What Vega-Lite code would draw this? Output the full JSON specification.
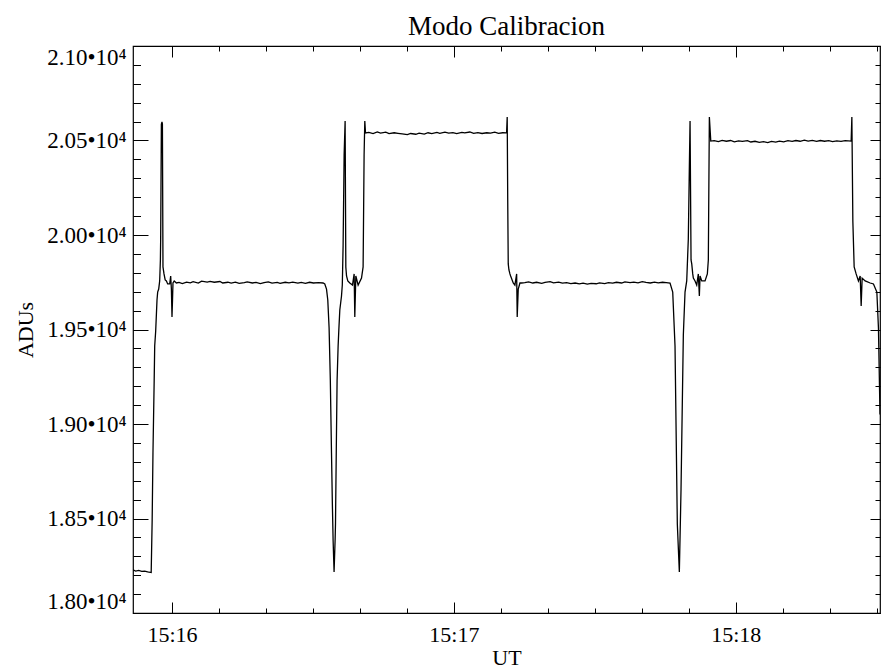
{
  "$schema": "https://vega.github.io/schema/vega-lite/v6.json",
  "width": 747,
  "height": 567,
  "autosize": {"type": "none"},
  "padding": {"left": 133, "top": 46, "right": 1, "bottom": 55},
  "background": "white",
  "config": {
    "view": {"stroke": "black", "strokeWidth": 1.2},
    "font": "Liberation Serif",
    "axis": {
      "domain": false,
      "grid": false,
      "tickColor": "black",
      "tickWidth": 1,
      "labelColor": "black",
      "titleColor": "black",
      "labelFont": "Liberation Serif",
      "titleFont": "Liberation Serif",
      "labelFontSize": 22,
      "titleFontSize": 22,
      "titleFontWeight": "normal",
      "labelOverlap": false
    }
  },
  "title": {
    "text": "Modo Calibracion",
    "font": "Liberation Serif",
    "fontSize": 27,
    "fontWeight": "normal",
    "color": "black",
    "baseline": "alphabetic",
    "offset": -16
  },
  "data": {
    "values": [
      {"t": 951.7, "adu": 18228}, {"t": 952.27, "adu": 18222}, {"t": 952.91, "adu": 18225},
      {"t": 953.55, "adu": 18220}, {"t": 954.19, "adu": 18222}, {"t": 954.82, "adu": 18217},
      {"t": 955.57, "adu": 18214}, {"t": 955.78, "adu": 18492}, {"t": 955.95, "adu": 18847},
      {"t": 956.21, "adu": 19233}, {"t": 956.32, "adu": 19413}, {"t": 956.53, "adu": 19492},
      {"t": 956.81, "adu": 19656}, {"t": 956.95, "adu": 19698}, {"t": 957.17, "adu": 19714},
      {"t": 957.38, "adu": 19757}, {"t": 957.53, "adu": 19868}, {"t": 957.59, "adu": 19979},
      {"t": 957.74, "adu": 20587}, {"t": 957.87, "adu": 20598}, {"t": 957.96, "adu": 20587},
      {"t": 958.08, "adu": 19831}, {"t": 958.3, "adu": 19794}, {"t": 958.55, "adu": 19762},
      {"t": 958.81, "adu": 19757}, {"t": 959.08, "adu": 19741}, {"t": 959.51, "adu": 19741},
      {"t": 959.72, "adu": 19783}, {"t": 959.87, "adu": 19714}, {"t": 960.0, "adu": 19566},
      {"t": 960.11, "adu": 19656}, {"t": 960.21, "adu": 19746}, {"t": 960.47, "adu": 19757},
      {"t": 960.94, "adu": 19746},
      {"t": 961.5, "adu": 19749}, {"t": 962.2, "adu": 19743}, {"t": 963.1, "adu": 19751},
      {"t": 963.9, "adu": 19747}, {"t": 964.5, "adu": 19753}, {"t": 965.6, "adu": 19746},
      {"t": 966.3, "adu": 19756}, {"t": 967.5, "adu": 19751}, {"t": 968.1, "adu": 19755},
      {"t": 969.0, "adu": 19750}, {"t": 970.2, "adu": 19754}, {"t": 970.8, "adu": 19746},
      {"t": 971.9, "adu": 19750}, {"t": 972.6, "adu": 19745}, {"t": 973.5, "adu": 19751},
      {"t": 974.3, "adu": 19744}, {"t": 975.4, "adu": 19748}, {"t": 976.0, "adu": 19752},
      {"t": 977.1, "adu": 19746}, {"t": 977.9, "adu": 19749}, {"t": 978.8, "adu": 19743},
      {"t": 979.6, "adu": 19748}, {"t": 980.5, "adu": 19752}, {"t": 981.3, "adu": 19745},
      {"t": 982.4, "adu": 19749}, {"t": 983.0, "adu": 19744}, {"t": 984.1, "adu": 19750},
      {"t": 984.9, "adu": 19747}, {"t": 985.7, "adu": 19751}, {"t": 986.8, "adu": 19745},
      {"t": 987.5, "adu": 19749}, {"t": 988.4, "adu": 19744}, {"t": 989.3, "adu": 19750},
      {"t": 990.1, "adu": 19746}, {"t": 991.2, "adu": 19748},
      {"t": 992.16, "adu": 19746}, {"t": 992.52, "adu": 19741}, {"t": 992.89, "adu": 19714},
      {"t": 993.16, "adu": 19656}, {"t": 993.44, "adu": 19508}, {"t": 993.7, "adu": 19233},
      {"t": 993.95, "adu": 18847}, {"t": 994.12, "adu": 18598}, {"t": 994.29, "adu": 18386},
      {"t": 994.5, "adu": 18217}, {"t": 994.72, "adu": 18386}, {"t": 994.8, "adu": 18471},
      {"t": 994.97, "adu": 18862}, {"t": 995.14, "adu": 19228}, {"t": 995.36, "adu": 19413},
      {"t": 995.51, "adu": 19497}, {"t": 995.72, "adu": 19603}, {"t": 996.08, "adu": 19677},
      {"t": 996.25, "adu": 19735}, {"t": 996.42, "adu": 19942}, {"t": 996.64, "adu": 20423},
      {"t": 996.85, "adu": 20603}, {"t": 997.0, "adu": 19831}, {"t": 997.15, "adu": 19783},
      {"t": 997.42, "adu": 19757}, {"t": 997.85, "adu": 19746}, {"t": 998.42, "adu": 19735},
      {"t": 998.77, "adu": 19794}, {"t": 998.91, "adu": 19566}, {"t": 999.13, "adu": 19783},
      {"t": 999.62, "adu": 19735}, {"t": 1000.34, "adu": 19772}, {"t": 1000.68, "adu": 19831},
      {"t": 1000.89, "adu": 20423}, {"t": 1001.04, "adu": 20603}, {"t": 1001.19, "adu": 20540},
      {"t": 1001.9, "adu": 20543}, {"t": 1002.8, "adu": 20537}, {"t": 1003.7, "adu": 20545},
      {"t": 1004.4, "adu": 20539}, {"t": 1005.5, "adu": 20544}, {"t": 1006.2, "adu": 20536},
      {"t": 1007.3, "adu": 20541}, {"t": 1008.1, "adu": 20538}, {"t": 1009.0, "adu": 20535},
      {"t": 1010.1, "adu": 20531}, {"t": 1010.8, "adu": 20537}, {"t": 1011.9, "adu": 20533},
      {"t": 1012.6, "adu": 20539}, {"t": 1013.7, "adu": 20534}, {"t": 1014.5, "adu": 20541},
      {"t": 1015.3, "adu": 20536}, {"t": 1016.4, "adu": 20543}, {"t": 1017.0, "adu": 20538},
      {"t": 1018.1, "adu": 20544}, {"t": 1018.9, "adu": 20539}, {"t": 1019.8, "adu": 20542},
      {"t": 1020.6, "adu": 20536}, {"t": 1021.7, "adu": 20543}, {"t": 1022.3, "adu": 20540},
      {"t": 1023.4, "adu": 20545}, {"t": 1024.2, "adu": 20538}, {"t": 1025.1, "adu": 20542},
      {"t": 1026.0, "adu": 20537}, {"t": 1027.0, "adu": 20541}, {"t": 1027.8, "adu": 20539},
      {"t": 1028.7, "adu": 20544}, {"t": 1029.5, "adu": 20538}, {"t": 1030.4, "adu": 20541},
      {"t": 1031.22, "adu": 20540}, {"t": 1031.35, "adu": 20624}, {"t": 1031.46, "adu": 20185},
      {"t": 1031.57, "adu": 19847}, {"t": 1031.72, "adu": 19815}, {"t": 1031.93, "adu": 19794},
      {"t": 1032.08, "adu": 19783}, {"t": 1032.63, "adu": 19746}, {"t": 1032.99, "adu": 19735},
      {"t": 1033.36, "adu": 19794}, {"t": 1033.48, "adu": 19566}, {"t": 1033.7, "adu": 19714},
      {"t": 1034.06, "adu": 19746}, {"t": 1034.42, "adu": 19746},
      {"t": 1035.1, "adu": 19748}, {"t": 1035.9, "adu": 19752}, {"t": 1036.8, "adu": 19746},
      {"t": 1037.6, "adu": 19750}, {"t": 1038.7, "adu": 19744}, {"t": 1039.4, "adu": 19749},
      {"t": 1040.5, "adu": 19753}, {"t": 1041.2, "adu": 19747}, {"t": 1042.3, "adu": 19751},
      {"t": 1043.1, "adu": 19745}, {"t": 1044.0, "adu": 19748}, {"t": 1044.9, "adu": 19743},
      {"t": 1045.8, "adu": 19746}, {"t": 1046.7, "adu": 19741}, {"t": 1047.5, "adu": 19745},
      {"t": 1048.4, "adu": 19740}, {"t": 1049.2, "adu": 19744}, {"t": 1050.3, "adu": 19742},
      {"t": 1051.0, "adu": 19747}, {"t": 1052.1, "adu": 19743}, {"t": 1052.9, "adu": 19748},
      {"t": 1053.8, "adu": 19745}, {"t": 1054.6, "adu": 19750}, {"t": 1055.7, "adu": 19746},
      {"t": 1056.4, "adu": 19752}, {"t": 1057.5, "adu": 19748}, {"t": 1058.3, "adu": 19751},
      {"t": 1059.2, "adu": 19747}, {"t": 1060.1, "adu": 19753}, {"t": 1060.9, "adu": 19749},
      {"t": 1061.8, "adu": 19746}, {"t": 1062.7, "adu": 19751}, {"t": 1063.5, "adu": 19747},
      {"t": 1064.4, "adu": 19750}, {"t": 1065.2, "adu": 19748},
      {"t": 1066.01, "adu": 19746}, {"t": 1066.58, "adu": 19698}, {"t": 1067.07, "adu": 19413},
      {"t": 1067.56, "adu": 18471}, {"t": 1067.99, "adu": 18217}, {"t": 1068.35, "adu": 18656},
      {"t": 1068.84, "adu": 19471}, {"t": 1069.2, "adu": 19698}, {"t": 1069.56, "adu": 19757},
      {"t": 1069.9, "adu": 19979}, {"t": 1070.12, "adu": 20360}, {"t": 1070.27, "adu": 20603},
      {"t": 1070.48, "adu": 19868}, {"t": 1070.63, "adu": 19847}, {"t": 1070.84, "adu": 19794},
      {"t": 1070.97, "adu": 19772}, {"t": 1071.33, "adu": 19757}, {"t": 1071.69, "adu": 19735},
      {"t": 1072.03, "adu": 19794}, {"t": 1072.25, "adu": 19677}, {"t": 1072.4, "adu": 19783},
      {"t": 1072.76, "adu": 19757}, {"t": 1073.46, "adu": 19757}, {"t": 1073.95, "adu": 19794},
      {"t": 1074.16, "adu": 19868}, {"t": 1074.38, "adu": 20624}, {"t": 1074.68, "adu": 20497},
      {"t": 1075.4, "adu": 20499}, {"t": 1076.3, "adu": 20494}, {"t": 1077.1, "adu": 20501},
      {"t": 1078.0, "adu": 20496}, {"t": 1078.9, "adu": 20500}, {"t": 1079.7, "adu": 20493},
      {"t": 1080.6, "adu": 20498}, {"t": 1081.4, "adu": 20495}, {"t": 1082.5, "adu": 20499},
      {"t": 1083.2, "adu": 20492}, {"t": 1084.1, "adu": 20496}, {"t": 1085.0, "adu": 20490},
      {"t": 1085.9, "adu": 20494}, {"t": 1086.8, "adu": 20489}, {"t": 1087.6, "adu": 20495},
      {"t": 1088.5, "adu": 20491}, {"t": 1089.3, "adu": 20497}, {"t": 1090.2, "adu": 20493},
      {"t": 1091.1, "adu": 20499}, {"t": 1092.0, "adu": 20495}, {"t": 1092.8, "adu": 20500},
      {"t": 1093.7, "adu": 20496}, {"t": 1094.6, "adu": 20502}, {"t": 1095.4, "adu": 20497},
      {"t": 1096.3, "adu": 20501}, {"t": 1097.2, "adu": 20495}, {"t": 1098.0, "adu": 20500},
      {"t": 1098.9, "adu": 20496}, {"t": 1099.8, "adu": 20499}, {"t": 1100.6, "adu": 20494},
      {"t": 1101.5, "adu": 20498}, {"t": 1102.4, "adu": 20495}, {"t": 1103.3, "adu": 20499},
      {"t": 1104.56, "adu": 20497}, {"t": 1104.71, "adu": 20624}, {"t": 1104.92, "adu": 20074},
      {"t": 1105.2, "adu": 19831}, {"t": 1105.62, "adu": 19794}, {"t": 1106.11, "adu": 19757},
      {"t": 1106.48, "adu": 19783}, {"t": 1106.69, "adu": 19624}, {"t": 1106.9, "adu": 19772},
      {"t": 1107.54, "adu": 19757}, {"t": 1108.61, "adu": 19746}, {"t": 1109.31, "adu": 19741},
      {"t": 1110.03, "adu": 19698}, {"t": 1110.37, "adu": 19508}, {"t": 1110.7, "adu": 19050}
    ]
  },
  "layer": [
    {
      "mark": {"type": "line", "color": "black", "strokeWidth": 1.3, "clip": true},
      "encoding": {
        "x": {
          "field": "t", "type": "quantitative",
          "scale": {"domain": [951.7, 1110.7], "zero": false, "nice": false},
          "axis": {
            "orient": "bottom",
            "values": [960, 1020, 1080],
            "tickSize": -11,
            "labelPadding": 22,
            "labelExpr": "'15:' + format(datum.value / 60, 'd')",
            "title": "UT",
            "titleBaseline": "alphabetic",
            "titleY": 51
          }
        },
        "y": {
          "field": "adu", "type": "quantitative",
          "scale": {"domain": [18000, 21000], "zero": false, "nice": false},
          "axis": {
            "orient": "left",
            "values": [18000, 18500, 19000, 19500, 20000, 20500, 21000],
            "tickSize": -15,
            "labelPadding": 22,
            "labelFlush": true,
            "labelFontSize": 23,
            "labelExpr": "format(datum.value / 10000, '.2f') + '•10⁴'",
            "title": "ADUs",
            "titleBaseline": "middle",
            "titleX": -108
          }
        }
      }
    },
    {
      "mark": {"type": "line", "opacity": 0},
      "encoding": {
        "x": {
          "field": "t", "type": "quantitative",
          "scale": {"domain": [951.7, 1110.7], "zero": false, "nice": false},
          "axis": {
            "orient": "bottom",
            "values": [960, 970, 980, 990, 1000, 1010, 1020, 1030, 1040, 1050, 1060, 1070, 1080, 1090, 1100, 1110],
            "tickSize": -5,
            "labels": false,
            "title": null
          }
        },
        "y": {
          "field": "adu", "type": "quantitative",
          "scale": {"domain": [18000, 21000], "zero": false, "nice": false},
          "axis": {
            "orient": "left",
            "values": [18000, 18100, 18200, 18300, 18400, 18500, 18600, 18700, 18800, 18900, 19000, 19100, 19200, 19300, 19400, 19500, 19600, 19700, 19800, 19900, 20000, 20100, 20200, 20300, 20400, 20500, 20600, 20700, 20800, 20900, 21000],
            "tickSize": -7.5,
            "labels": false,
            "title": null
          }
        }
      }
    },
    {
      "mark": {"type": "line", "opacity": 0},
      "encoding": {
        "x": {
          "field": "t", "type": "quantitative",
          "scale": {"domain": [951.7, 1110.7], "zero": false, "nice": false},
          "axis": {
            "orient": "top",
            "values": [960, 1020, 1080],
            "tickSize": -11,
            "labels": false,
            "title": null
          }
        },
        "y": {
          "field": "adu", "type": "quantitative",
          "scale": {"domain": [18000, 21000], "zero": false, "nice": false},
          "axis": {
            "orient": "right",
            "values": [18000, 18500, 19000, 19500, 20000, 20500, 21000],
            "tickSize": -10,
            "labels": false,
            "title": null
          }
        }
      }
    },
    {
      "mark": {"type": "line", "opacity": 0},
      "encoding": {
        "x": {
          "field": "t", "type": "quantitative",
          "scale": {"domain": [951.7, 1110.7], "zero": false, "nice": false},
          "axis": {
            "orient": "top",
            "values": [960, 970, 980, 990, 1000, 1010, 1020, 1030, 1040, 1050, 1060, 1070, 1080, 1090, 1100, 1110],
            "tickSize": -5,
            "labels": false,
            "title": null
          }
        },
        "y": {
          "field": "adu", "type": "quantitative",
          "scale": {"domain": [18000, 21000], "zero": false, "nice": false},
          "axis": {
            "orient": "right",
            "values": [18000, 18100, 18200, 18300, 18400, 18500, 18600, 18700, 18800, 18900, 19000, 19100, 19200, 19300, 19400, 19500, 19600, 19700, 19800, 19900, 20000, 20100, 20200, 20300, 20400, 20500, 20600, 20700, 20800, 20900, 21000],
            "tickSize": -5,
            "labels": false,
            "title": null
          }
        }
      }
    }
  ],
  "resolve": {"axis": {"x": "independent", "y": "independent"}}
}
